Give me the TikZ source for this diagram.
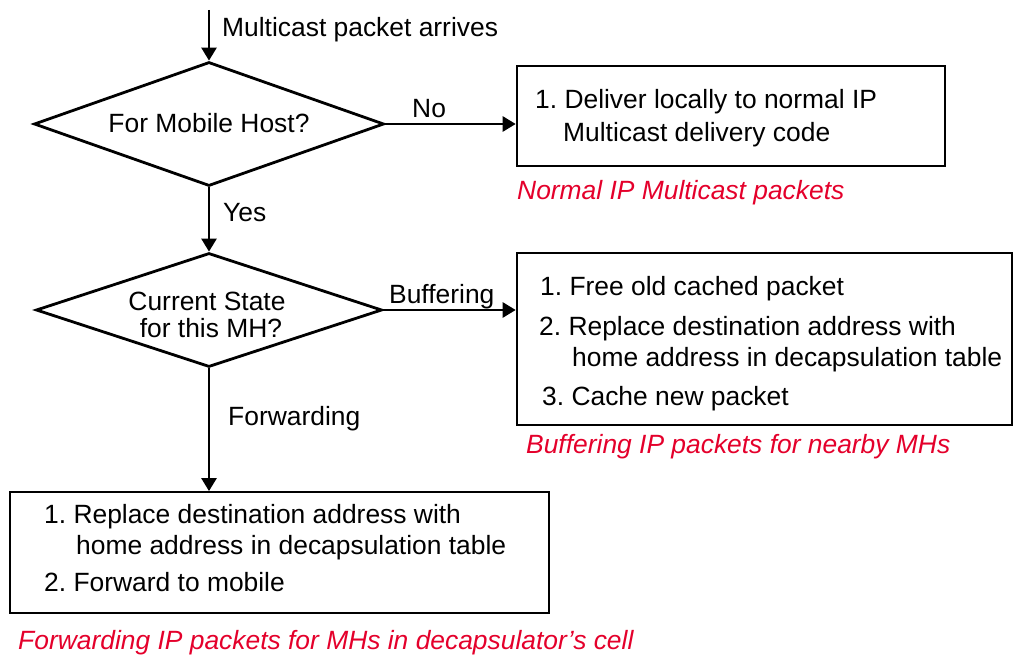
\documentclass[tikz,border=0pt]{standalone}
\usepackage{fontspec}
\setmainfont{Liberation Sans}
\usetikzlibrary{shapes.geometric,arrows.meta}
\definecolor{capred}{RGB}{228,0,43}
\frenchspacing
\begin{document}
\begin{tikzpicture}[x=1pt,y=-1pt,
  every node/.style={font=\fontsize{26.4}{31}\selectfont},
  txt/.style={inner sep=0pt, anchor=base west},
  ctxt/.style={inner sep=0pt, anchor=base},
  captxt/.style={inner sep=0pt, anchor=base west, text=capred, font=\fontsize{26.4}{31}\selectfont\itshape},
  decision/.style={draw, diamond, line width=2.8pt, inner sep=0pt, shape aspect=3},
  stepbox/.style={draw, rectangle, inner sep=0pt},
  arr/.style={-{Triangle[length=13pt,width=15pt]}, line width=2.6pt}]
\useasboundingbox (0,0) rectangle (1015,658);

% decisions
\node[decision, minimum width=350pt, minimum height=124pt] (d1) at (209,124) {};
\node[ctxt] (q1) at (209,133) {For Mobile Host?};
\node[decision, minimum width=346pt, minimum height=114pt] (d2) at (209,310) {};
\node[ctxt] (q2a) at (207,310) {Current State};
\node[ctxt] (q2b) at (211,337) {for this MH?};

% boxes
\node[stepbox, line width=2.6pt, minimum width=428pt, minimum height=100pt] (b1) at (731,116) {};
\node[stepbox, line width=2.6pt, minimum width=495pt, minimum height=172pt] (b2) at (764.5,339) {};
\node[stepbox, line width=1.8pt, minimum width=539pt, minimum height=121pt] (b3) at (279.5,552.5) {};

% connectors
\coordinate (start) at (209,10);
\draw[arr] (start) -- (d1.north);
\draw[arr] (d1.east) -- (d1.east -| b1.west);
\draw[arr] (d1.south) -- (d2.north);
\draw[arr] (d2.east) -- (d2.east -| b2.west);
\draw[arr] (d2.south) -- (d2.south |- b3.north);

% connector labels
\node[txt] (lin) at (222,37) {Multicast packet arrives};
\node[txt] (lno) at (412,118) {No};
\node[txt] (lyes) at (223,222) {Yes};
\node[txt] (lbuf) at (389,303) {Buffering};
\node[txt] (lfwd) at (228,425) {Forwarding};

% box 1
\node[txt] (b1l1) at (535,109) {1. Deliver locally to normal IP};
\node[txt] (b1l2) at (563,142) {Multicast delivery code};
\node[captxt] (c1) at (517,200) {Normal IP Multicast packets};

% box 2
\node[txt] (b2l1) at (540,295) {1. Free old cached packet};
\node[txt] (b2l2) at (539,335) {2. Replace destination address with};
\node[txt] (b2l3) at (572,366) {home address in decapsulation table};
\node[txt] (b2l4) at (542,405) {3. Cache new packet};
\node[captxt] (c2) at (526,453) {Buffering IP packets for nearby MHs};

% box 3
\node[txt] (b3l1) at (44,523) {1. Replace destination address with};
\node[txt] (b3l2) at (76,554) {home address in decapsulation table};
\node[txt] (b3l3) at (44,591) {2. Forward to mobile};
\node[captxt] (c3) at (18,649) {Forwarding IP packets for MHs in decapsulator’s cell};
\end{tikzpicture}
\end{document}
